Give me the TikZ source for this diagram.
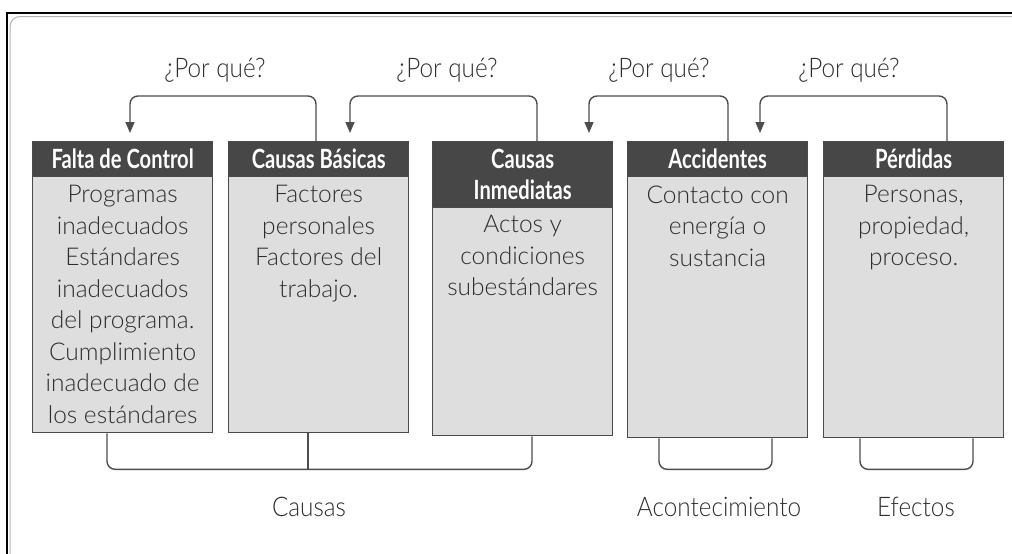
\documentclass[tikz,border=0pt]{standalone}
\usepackage{fontspec}
\setmainfont{Lato Light}
\newfontfamily\hdrfont[FakeStretch=0.76]{Lato Bold}
\newfontfamily\lblfont[FakeStretch=0.9]{Lato Light}
\usetikzlibrary{arrows.meta,calc}
\definecolor{hdrgray}{HTML}{474747}
\definecolor{boxgray}{HTML}{DEDEDF}
\definecolor{edgegray}{HTML}{4A4A4A}
\definecolor{txtgray}{HTML}{2E2E2E}
\definecolor{linegray}{HTML}{4D4D4D}
\begin{document}
\begin{tikzpicture}[x=1pt,y=-1pt,
  colbox/.style={draw=edgegray, line width=1.3pt, fill=boxgray, minimum width=180pt, anchor=north west, inner sep=0pt},
  hdrbox/.style={draw=edgegray, line width=1.3pt, fill=hdrgray, minimum width=180pt, anchor=north west, inner sep=0pt, text=white, font=\hdrfont\fontsize{26.5}{31}\selectfont, align=center},
  bodytxt/.style={anchor=north, align=center, text=txtgray, font=\fontsize{24.5}{31.5}\selectfont, inner sep=0pt},
  conn/.style={draw=linegray, line width=1.4pt, rounded corners=8pt},
  arr/.style={conn, -{Triangle[length=11pt,width=9pt]}},
  lbl/.style={text=txtgray, font=\lblfont\fontsize{27}{30}\selectfont}]
\useasboundingbox (0,0) rectangle (1012,554);
% frame
\draw[black, line width=1.6pt] (7,570) -- (7,13) -- (1030,13);
\draw[gray!60, line width=1pt, rounded corners=10pt] (10,570) -- (10,16.5) -- (1030,16.5);

% columns
\node[colbox, minimum height=291pt] (b1) at (32,141) {};
\node[colbox, minimum height=291pt] (b2) at (228,141) {};
\node[colbox, minimum height=294pt] (b3) at (432,141) {};
\node[colbox, minimum height=296pt] (b4) at (627,141) {};
\node[colbox, minimum height=296pt] (b5) at (823,141) {};

\node[hdrbox, minimum height=35pt] (h1) at (32,141) {Falta de Control};
\node[hdrbox, minimum height=35pt] (h2) at (228,141) {Causas Básicas};
\node[hdrbox, minimum height=66pt] (h3) at (432,141) {Causas\\Inmediatas};
\node[hdrbox, minimum height=35pt] (h4) at (627,141) {Accidentes};
\node[hdrbox, minimum height=35pt] (h5) at (823,141) {Pérdidas};

\node[bodytxt] (t1) at ($(h1.south)+(0,8)$) {Programas\\inadecuados\\Estándares\\inadecuados\\del programa.\\Cumplimiento\\inadecuado de\\los estándares};
\node[bodytxt] (t2) at ($(h2.south)+(0,8)$) {Factores\\personales\\Factores del\\trabajo.};
\node[bodytxt] (t3) at ($(h3.south)+(0,7)$) {Actos y\\condiciones\\subestándares};
\node[bodytxt] (t4) at ($(h4.south)+(0,8)$) {Contacto con\\energía o\\sustancia};
\node[bodytxt] (t5) at ($(h5.south)+(0,8)$) {Personas,\\propiedad,\\proceso.};

% top connectors
\coordinate (s1) at ($(h2.north west)+(88,0)$);
\coordinate (e1) at ($(h1.north west)+(98,-8)$);
\coordinate (s2) at ($(h3.north west)+(105,0)$);
\coordinate (e2) at ($(h2.north west)+(122,-8)$);
\coordinate (s3) at ($(h4.north west)+(101,0)$);
\coordinate (e3) at ($(h3.north west)+(157,-8)$);
\coordinate (s4) at ($(h5.north west)+(124,0)$);
\coordinate (e4) at ($(h4.north west)+(133,-8)$);
\draw[arr] (s1) -- ++(0,-45) -| (e1);
\draw[arr] (s2) -- ++(0,-45) -| (e2);
\draw[arr] (s3) -- ++(0,-45) -| (e3);
\draw[arr] (s4) -- ++(0,-45) -| (e4);

\node[lbl] (q1) at (215,70) {¿Por qué?};
\node[lbl] (q2) at (447,70) {¿Por qué?};
\node[lbl] (q3) at (659,70) {¿Por qué?};
\node[lbl] (q4) at (849,70) {¿Por qué?};

% bottom brackets
\draw[conn] ($(b1.south west)+(75,0)$) -- ++(0,36) -| ($(b3.south west)+(100,0)$);
\draw[conn] ($(b2.south west)+(80,0)$) -- ++(0,36);
\draw[conn] ($(b4.south west)+(32,0)$) -- ++(0,31) -| ($(b4.south west)+(145,0)$);
\draw[conn] ($(b5.south west)+(37,0)$) -- ++(0,31) -| ($(b5.south west)+(150,0)$);

\node[lbl] (c1) at (309,507) {Causas};
\node[lbl] (c2) at (719,507) {Acontecimiento};
\node[lbl] (c3) at (916,507) {Efectos};
\end{tikzpicture}
\end{document}
